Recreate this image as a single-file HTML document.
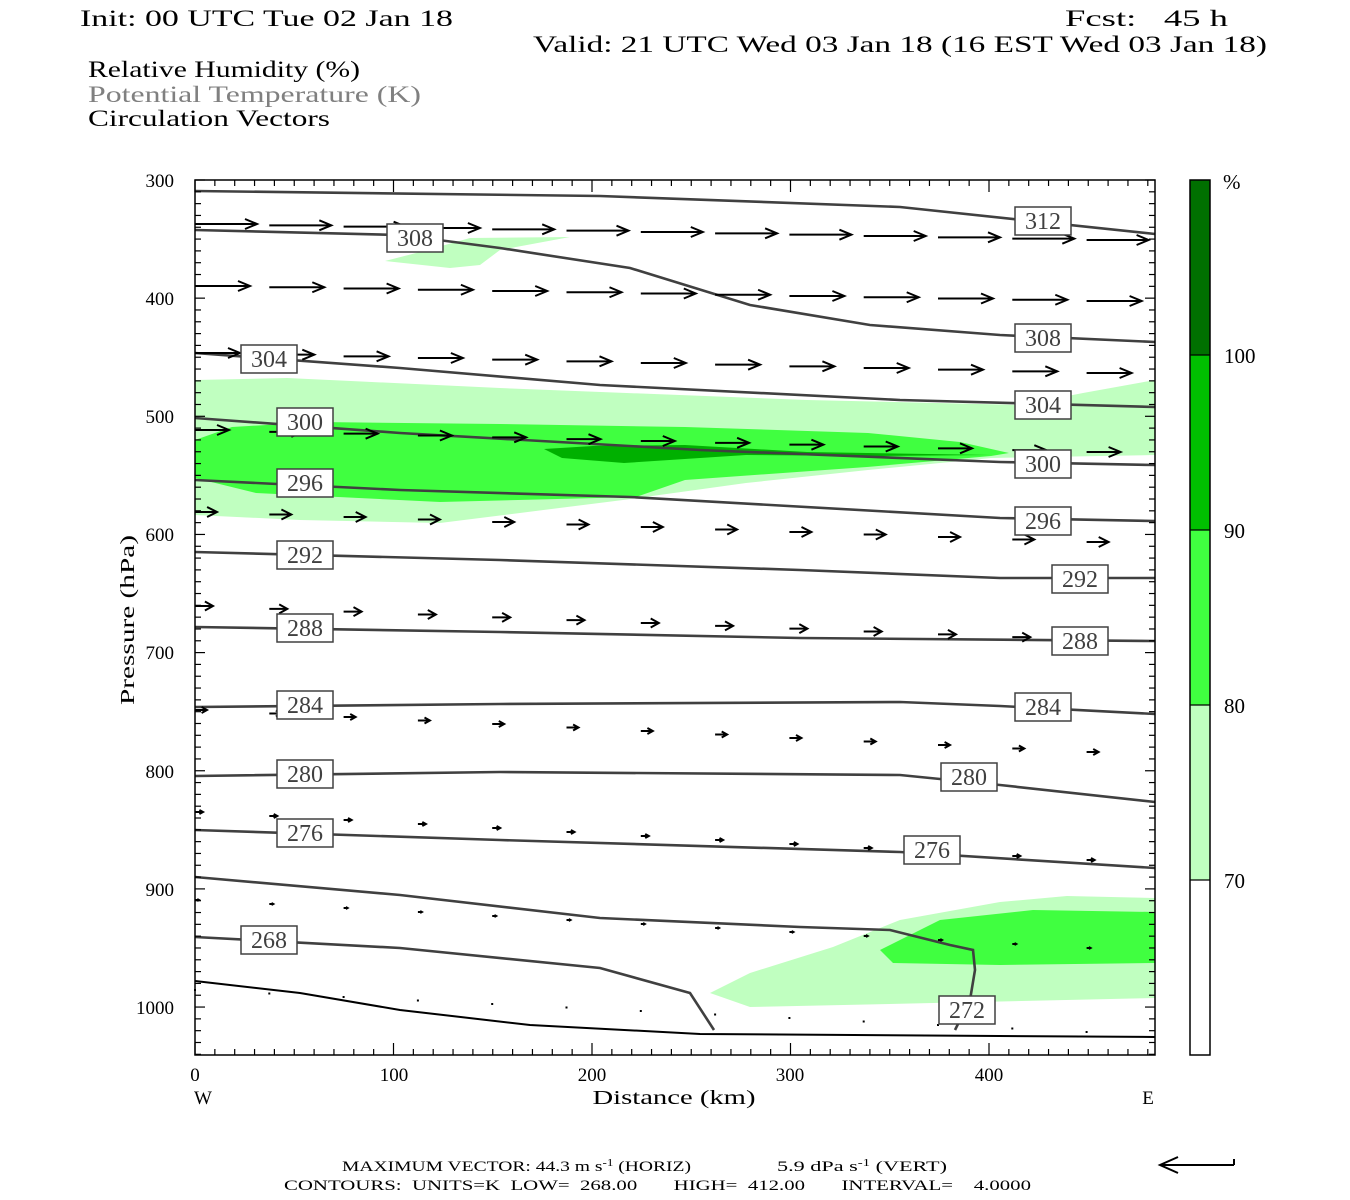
<!DOCTYPE html>
<html><head><meta charset="utf-8"><style>
html,body{margin:0;padding:0;background:#fff}
svg{display:block}
text{font-family:"Liberation Serif",serif}
</style></head><body>
<svg id="s" width="1350" height="1200" viewBox="0 0 1350 1200" xmlns="http://www.w3.org/2000/svg">
<rect width="1350" height="1200" fill="#fff"/>
<g font-size="23" fill="#000">
<text x="80" y="26" textLength="373" lengthAdjust="spacingAndGlyphs">Init: 00 UTC Tue 02 Jan 18</text>
<text x="1065" y="26" textLength="163" lengthAdjust="spacingAndGlyphs" xml:space="preserve">Fcst:   45 h</text>
<text x="533" y="52" textLength="734" lengthAdjust="spacingAndGlyphs">Valid: 21 UTC Wed 03 Jan 18 (16 EST Wed 03 Jan 18)</text>
<text x="88" y="77" textLength="272" lengthAdjust="spacingAndGlyphs">Relative Humidity (%)</text>
<text x="88" y="102" textLength="333" lengthAdjust="spacingAndGlyphs" fill="#808080">Potential Temperature (K)</text>
<text x="88" y="126" textLength="242" lengthAdjust="spacingAndGlyphs">Circulation Vectors</text>
</g>
<g stroke="none">
<polygon fill="#c0ffc0" points="385,261 420,252 470,238 570,237 500,250 480,265 450,268"/>
<polygon fill="#c0ffc0" points="195,380 287,378 500,388 807,400 1022,405 1083,393 1155,380 1155,455 991,458 868,470 746,483 623,500 440,523 300,520 195,515"/>
<polygon fill="#40ff40" points="195,440 232,427 317,422 500,424 685,427 868,433 960,442 1009,453 991,456 867,467 685,480 636,497 440,502 256,493 195,478"/>
<polygon fill="#00b000" points="544,449 593,446 685,445 807,452 991,455 880,456 746,455 624,463 562,458"/>
<polygon fill="#c0ffc0" points="710,993 750,973 833,947 900,920 1000,902 1067,896 1155,898 1155,998 933,1003 750,1007"/>
<polygon fill="#40ff40" points="880,950 940,920 1033,910 1155,912 1155,963 1000,965 893,963"/>
</g>
<g fill="none" stroke="#404040" stroke-width="2.6">
<polyline points="195,191 600,196 900,207 1155,234"/>
<polyline points="195,230 400,235 500,248 630,268 750,305 870,325 1000,335 1155,342"/>
<polyline points="195,353 400,368 600,385 900,400 1155,407"/>
<polyline points="195,418 400,433 700,450 1000,462 1155,465"/>
<polyline points="195,480 400,490 630,497 1000,518 1155,521"/>
<polyline points="195,552 500,560 800,570 1000,578 1155,578"/>
<polyline points="195,627 500,632 800,638 1155,641"/>
<polyline points="195,707 500,704 900,702 1000,706 1155,714"/>
<polyline points="195,776 500,772 900,775 1000,785 1155,802"/>
<polyline points="195,830 500,840 900,852 1155,868"/>
<polyline points="195,877 400,895 600,918 800,927 890,930 950,945 973,950 975,970 970,1000 955,1030"/>
<polyline points="195,937 400,948 600,968 690,993 714,1030"/>
<polyline points="195,981 300,993 400,1010 530,1025 700,1034 1155,1037" stroke="#000" stroke-width="2"/>
</g>
<g id="arrows" stroke="#000" fill="#000" stroke-width="2"></g>
<g font-size="24" fill="#404040" text-anchor="middle"><g id="lbls"></g></g>
<rect x="195" y="180" width="960" height="875" fill="none" stroke="#000" stroke-width="1.5"/>
<g id="ticks" stroke="#000" stroke-width="1.2"></g>
<g font-size="19" fill="#000" text-anchor="end">
<text x="174" y="187">300</text><text x="174" y="305">400</text><text x="174" y="423">500</text><text x="174" y="541">600</text><text x="174" y="659">700</text><text x="174" y="778">800</text><text x="174" y="896">900</text><text x="174" y="1014">1000</text>
</g>
<text x="0" y="0" font-size="20" text-anchor="middle" transform="translate(134,620) rotate(-90)" textLength="170" lengthAdjust="spacingAndGlyphs">Pressure (hPa)</text>
<g font-size="19" text-anchor="middle">
<text x="195" y="1081">0</text><text x="394" y="1081">100</text><text x="592" y="1081">200</text><text x="790" y="1081">300</text><text x="989" y="1081">400</text>
<text x="203" y="1104">W</text><text x="1148" y="1104">E</text>
</g>
<text x="674" y="1104" font-size="20" text-anchor="middle" textLength="163" lengthAdjust="spacingAndGlyphs">Distance (km)</text>
<rect x="1190" y="180" width="20" height="175" fill="#007000"/>
<rect x="1190" y="355" width="20" height="175" fill="#00c000"/>
<rect x="1190" y="530" width="20" height="175" fill="#40ff40"/>
<rect x="1190" y="705" width="20" height="175" fill="#c0ffc0"/>
<rect x="1190" y="880" width="20" height="175" fill="#fff"/>
<g stroke="#000" stroke-width="1.2"><line x1="1190" y1="355" x2="1210" y2="355"/><line x1="1190" y1="530" x2="1210" y2="530"/><line x1="1190" y1="705" x2="1210" y2="705"/><line x1="1190" y1="880" x2="1210" y2="880"/></g>
<rect x="1190" y="180" width="20" height="875" fill="none" stroke="#000" stroke-width="1.5"/>
<g font-size="21">
<text x="1223" y="189">%</text>
<text x="1224" y="363">100</text><text x="1224" y="538">90</text><text x="1224" y="713">80</text><text x="1224" y="888">70</text>
</g>
<g font-size="15">
<text x="342" y="1171" textLength="349" lengthAdjust="spacingAndGlyphs">MAXIMUM VECTOR:  44.3 m s<tspan dy="-5" font-size="10">-1</tspan><tspan dy="5"> (HORIZ)</tspan></text>
<text x="777" y="1171" textLength="170" lengthAdjust="spacingAndGlyphs">5.9 dPa s<tspan dy="-5" font-size="10">-1</tspan><tspan dy="5"> (VERT)</tspan></text>
<text x="284" y="1190" textLength="747" lengthAdjust="spacingAndGlyphs" xml:space="preserve">CONTOURS:  UNITS=K  LOW=  268.00       HIGH=  412.00       INTERVAL=    4.0000</text>
</g>
<g stroke="#000" stroke-width="2" fill="none"><line x1="1160" y1="1165" x2="1234" y2="1165"/><line x1="1234" y1="1165" x2="1234" y2="1159"/><polyline points="1178,1157 1160,1165 1178,1173"/></g>
</svg>
<script>
var NS="http://www.w3.org/2000/svg";
function el(p,n,a){var e=document.createElementNS(NS,n);for(var k in a)e.setAttribute(k,a[k]);p.appendChild(e);return e;}
var A=document.getElementById("arrows");
var rows=[[224,240,62],[286,301,55],[353,373,45],[430,452,34],[512,542,22],[606,640,18],[710,752,12],[812,860,8],[900,948,4],[990,1032,1]];
rows.forEach(function(r){
 for(var i=0;i<13;i++){
  var x=195+i*74.3, y=r[0]+(r[1]-r[0])*i/12, L=r[2];
  if(x+L>1155)continue;
  if(L<3){el(A,"rect",{x:x-1,y:y-1,width:2,height:2,stroke:"none"});continue;}
  el(A,"line",{x1:x,y1:y,x2:x+L,y2:y});
  var h=Math.min(12,L*0.45),w=Math.min(5,L*0.25);
  el(A,"polyline",{points:(x+L-h)+","+(y-w)+" "+(x+L)+","+y+" "+(x+L-h)+","+(y+w),fill:"none"});
 }
});
var Lb=document.getElementById("lbls");
[[415,238,"308"],[1043,221,"312"],[1043,338,"308"],[269,359,"304"],[1043,405,"304"],[305,422,"300"],[1043,464,"300"],[305,483,"296"],[1043,521,"296"],[305,555,"292"],[1080,579,"292"],[305,628,"288"],[1080,641,"288"],[305,705,"284"],[1043,707,"284"],[305,774,"280"],[969,777,"280"],[305,833,"276"],[932,850,"276"],[269,940,"268"],[967,1010,"272"]].forEach(function(l){
 el(Lb,"rect",{x:l[0]-28,y:l[1]-14,width:56,height:28,fill:"#fff",stroke:"#404040","stroke-width":1.5});
 var t=el(Lb,"text",{x:l[0],y:l[1]+8});t.textContent=l[2];
});
var T=document.getElementById("ticks");
for(var p=300;p<=1040;p+=10){var y=180+(p-300)*1.1815;var L=(p%100==0)?10:6;
 el(T,"line",{x1:195,y1:y,x2:195+L,y2:y});el(T,"line",{x1:1155,y1:y,x2:1155-L,y2:y});}
for(var d=0;d<=480;d+=10){var x=195+d*1.985;var L=(d%100==0)?12:6;
 el(T,"line",{x1:x,y1:1055,x2:x,y2:1055-L});el(T,"line",{x1:x,y1:180,x2:x,y2:180+L});}
</script>
</body></html>
